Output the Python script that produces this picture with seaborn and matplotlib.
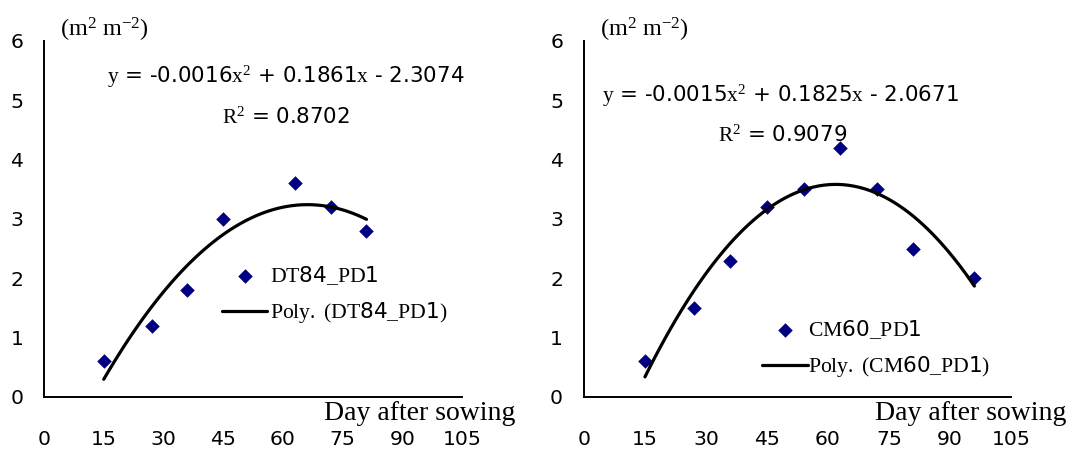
import matplotlib
matplotlib.use("Agg")
import matplotlib.pyplot as plt
import seaborn as sns

# leaf area index (m2 m-2) against day after sowing, planting date 1
days_dt84 = [15, 27, 36, 45, 63, 72, 81]
lai_dt84 = [0.6, 1.2, 1.8, 3.0, 3.6, 3.2, 2.8]

days_cm60 = [15, 27, 36, 45, 54, 63, 72, 81, 96]
lai_cm60 = [0.6, 1.5, 2.3, 3.2, 3.5, 4.2, 3.5, 2.5, 2.0]

# legend labels: serif letters, sans digits (like the original)
point_labels = [r"$\mathrm{DT}$84$\mathrm{\_PD}$1",
                r"$\mathrm{CM}$60$\mathrm{\_PD}$1"]
fit_labels = [r"$\mathrm{Poly.\ (DT}$84$\mathrm{\_PD}$1$\mathrm{)}$",
              r"$\mathrm{Poly.\ (CM}$60$\mathrm{\_PD}$1$\mathrm{)}$"]
equations = [r"$y$ = -0.0016$x^{2}$ + 0.1861$x$ - 2.3074",
             r"$y$ = -0.0015$x^{2}$ + 0.1825$x$ - 2.0671"]
r_squared = [r"$R^{2}$ = 0.8702", r"$R^{2}$ = 0.9079"]

x_ticks = [0, 15, 30, 45, 60, 75, 90, 105]
y_ticks = [0, 1, 2, 3, 4, 5, 6]

sns.set_style("white")
plt.rcParams["font.family"] = ["DejaVu Sans"]
plt.rcParams["text.color"] = "black"
plt.rcParams["axes.labelcolor"] = "black"
plt.rcParams["xtick.color"] = "black"
plt.rcParams["ytick.color"] = "black"
plt.rcParams["mathtext.fontset"] = "custom"
plt.rcParams["mathtext.rm"] = "Liberation Serif"
plt.rcParams["mathtext.it"] = "Liberation Serif:italic"
plt.rcParams["mathtext.bf"] = "Liberation Serif:bold"
plt.rcParams["mathtext.default"] = "rm"

fig = plt.figure(figsize=(10.77, 4.58), dpi=100)
ax1 = fig.add_axes([0.0409, 0.1332, 0.3881, 0.7773])
ax2 = fig.add_axes([0.5422, 0.1332, 0.3965, 0.7773])

panels = [
    (ax1, days_dt84, lai_dt84, (60.6, 5.40), (60.8, 4.71), (44.7, 2.24), 0.12),
    (ax2, days_cm60, lai_cm60, (48.3, 5.07), (48.8, 4.41), (43.8, 1.33), 0.0),
]

for i, (ax, days, lai, eq_pos, r2_pos, leg_pos, txt_pad) in enumerate(panels):
    sns.scatterplot(x=days, y=lai, marker="D", color="#000080", s=55,
                    linewidth=0, label=point_labels[i], ax=ax)
    sns.regplot(x=days, y=lai, order=2, ci=None, scatter=False, ax=ax,
                label=fit_labels[i], line_kws=dict(color="black", lw=2.3))

    ax.set_xlim(0, 105)
    ax.set_ylim(0, 6)
    ax.set_xticks(x_ticks)
    ax.set_yticks(y_ticks)
    ax.set_xlabel("")
    ax.set_ylabel("")
    for side in ["top", "right"]:
        ax.spines[side].set_visible(False)
    for side in ["left", "bottom"]:
        ax.spines[side].set_linewidth(1.4)
        ax.spines[side].set_color("black")
    ax.tick_params(axis="x", direction="in", length=6, width=1.4, pad=24,
                   labelsize=14.7, colors="black")
    ax.tick_params(axis="y", direction="in", length=6, width=1.4, pad=15,
                   labelsize=14.7, colors="black")
    ax.set_facecolor("none")

    ax.text(eq_pos[0], eq_pos[1], equations[i], ha="center", va="center",
            fontsize=15.4)
    ax.text(r2_pos[0], r2_pos[1], r_squared[i], ha="center", va="center",
            fontsize=15.4)
    ax.text(4.0, 6.08, r"(m$^{2}$ m$^{-2}$)", ha="left", va="baseline",
            fontsize=17.5, family="Liberation Serif", clip_on=False)
    ax.text(118.5, -0.39, "Day after sowing", ha="right", va="baseline",
            fontsize=20, family="Liberation Serif", clip_on=False)

    ax.legend(loc="upper left", bbox_to_anchor=leg_pos,
              bbox_transform=ax.transData, frameon=False, borderpad=0,
              borderaxespad=0, handlelength=2.1, handletextpad=txt_pad,
              labelspacing=0.62, fontsize=15.6)

fig.savefig("out.png", dpi=100)
